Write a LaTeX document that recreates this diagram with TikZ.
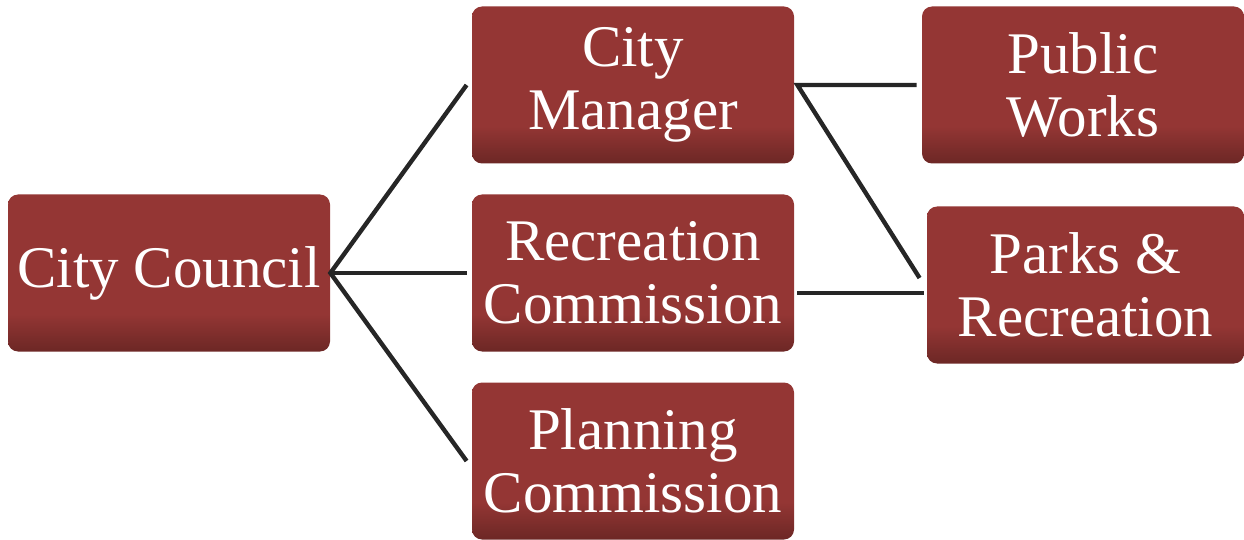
\documentclass[tikz,border=0pt]{standalone}
\usepackage{fontspec}
\setmainfont{Liberation Serif}
\definecolor{boxmain}{HTML}{943634}
\definecolor{boxdark}{HTML}{6C2725}
\definecolor{linecol}{HTML}{262626}
\pgfdeclareverticalshading{boxshade}{100bp}{color(0bp)=(boxdark); color(25bp)=(boxdark); color(37bp)=(boxmain); color(100bp)=(boxmain)}
\tikzset{
  orgbox/.style={rectangle, rounded corners=5pt, minimum width=161pt, minimum height=78.5pt,
    shading=boxshade, text=white, align=center, inner sep=0pt,
    font=\fontsize{29.5}{31.5}\selectfont,
    execute at begin node={\vspace*{3pt}}},
  conn/.style={draw=linecol, line width=2.2pt, line join=miter}
}
\begin{document}
\begin{tikzpicture}[x=0.5pt,y=-0.5pt]
\useasboundingbox (0,0) rectangle (1244,540);
\node[orgbox, font=\fontsize{29.5}{32}\selectfont] (cc) at (169,273) {City Council};
\node[orgbox] (cm) at (633,85) {City\\Manager};
\node[orgbox] (rc) at (633,273) {Recreation\\Commission};
\node[orgbox] (pc) at (633,461) {Planning\\Commission};
\node[orgbox] (pw) at (1083,85) {Public\\Works};
\node[orgbox, minimum width=158.5pt] (pr) at (1085.5,285) {Parks \&\\Recreation};
\coordinate (mhub) at ([xshift=1.5pt]cm.east);
\coordinate (rstart) at ([xshift=1.5pt,yshift=-10pt]rc.east);
\draw[conn] ([xshift=-2.5pt]cm.west) -- (cc.east) -- ([xshift=-2.5pt]pc.west);
\draw[conn] (cc.east) -- ([xshift=-2.5pt]rc.west);
\draw[conn] ([xshift=-2.5pt]pw.west) -- (mhub) -- ([xshift=-3.5pt,yshift=3.5pt]pr.west);
\draw[conn] (rstart) -- ([xshift=-1.5pt]rstart -| pr.west);
\end{tikzpicture}
\end{document}
